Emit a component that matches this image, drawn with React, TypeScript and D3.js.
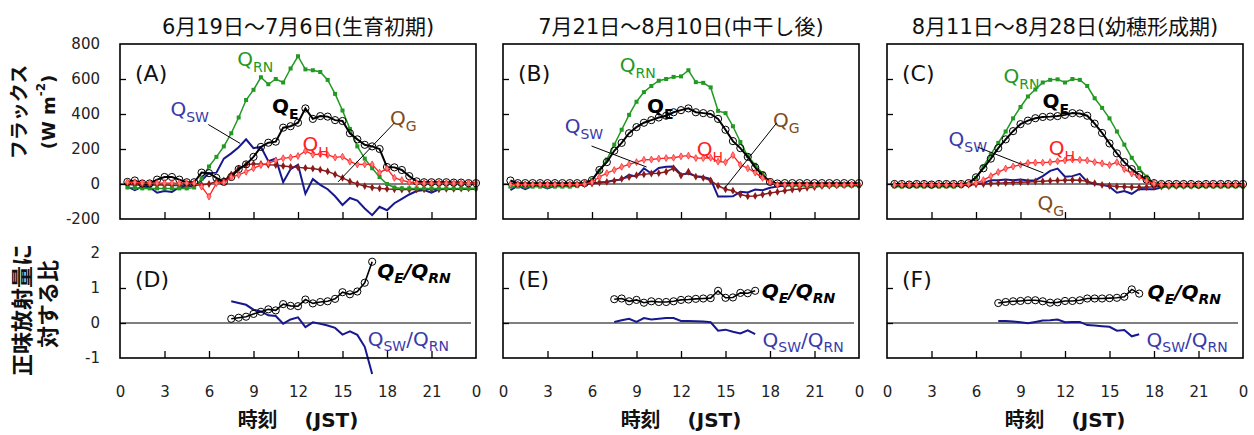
import { useEffect, useRef } from "react";
import * as d3 from "d3";

// sampling times (half-hourly means 0.5 … 24.0 h, ratios 7.5 … 17.0 h)
const HOURS = d3.range(1, 49).map((i) => i / 2);
const RATIO_HOURS = d3.range(15, 35).map((i) => i / 2);

const TITLES = ["6月19日～7月6日(生育初期)", "7月21日～8月10日(中干し後)", "8月11日～8月28日(幼穂形成期)"];
const FLUX_TICKS = [-200, 0, 200, 400, 600, 800];
const RATIO_TICKS = [-1, 0, 1, 2];
const HOUR_TICKS = [0, 3, 6, 9, 12, 15, 18, 21, 24];

// (A) 生育初期
const A_RN = [-20, -22, -25, -25, -25, -25, -25, -25, -25, -20, 30, 100, 155, 215, 290, 380, 480, 538, 610, 570, 600, 580, 660, 730, 655, 650, 640, 595, 515, 420, 315, 215, 145, 90, 40, 0, -20, -25, -25, -25, -25, -25, -25, -25, -25, -25, -25, -25];
const A_E = [12, 20, 3, 3, 25, 40, 40, 25, 10, 10, 65, 62, 35, 12, 40, 85, 112, 155, 212, 236, 242, 322, 330, 350, 432, 372, 388, 385, 365, 360, 290, 255, 224, 215, 200, 97, 95, 80, 45, 15, 10, 10, 10, 10, 8, 8, 5, 5];
const A_H = [10, 10, 5, 5, 5, 5, 5, 5, 5, 5, -15, -72, 5, 10, 40, 52, 70, 90, 108, 118, 135, 147, 152, 160, 189, 168, 171, 166, 152, 156, 128, 112, 112, 112, 65, 88, 35, 22, 10, 5, 5, 5, 5, 5, 5, 5, 5, 5];
const A_G = [-3, -5, -5, -5, -5, -5, -8, -8, -8, -8, -5, 0, 15, 20, 55, 88, 110, 115, 115, 110, 108, 103, 98, 95, 92, 88, 82, 72, 55, 35, 15, 0, -12, -20, -25, -28, -30, -32, -32, -32, -30, -30, -30, -28, -28, -26, -25, -25];
const A_SW = [-15, -35, -15, -18, -50, -40, -45, -18, -15, -12, 20, 62, 65, 145, 175, 210, 255, 205, 212, 130, 145, 10, 85, 110, -55, 28, -5, -30, -70, -120, -80, -95, -140, -178, -130, -150, -110, -85, -60, -40, -35, -50, -30, -28, -28, -28, -28, -28];

// (B) 中干し後
const B_RN = [-15, -15, -15, -15, -15, -15, -15, -15, -15, -12, 0, 22, 75, 140, 225, 310, 395, 470, 525, 560, 590, 600, 612, 615, 650, 582, 578, 552, 418, 405, 330, 240, 160, 110, 60, 12, -5, -10, -12, -12, -12, -12, -12, -12, -12, -12, -12, -12];
const B_E = [20, 5, 5, 5, 5, 5, 5, 5, 5, 5, 5, 22, 80, 125, 190, 235, 290, 325, 350, 365, 380, 390, 410, 422, 432, 410, 405, 400, 372, 310, 245, 205, 155, 95, 50, 12, 3, 5, 5, 5, 5, 5, 5, 5, 5, 5, 5, 5];
const B_H = [-3, -3, -3, -3, -3, -3, -3, -3, -3, -3, 0, 10, 40, 62, 80, 98, 112, 125, 138, 140, 145, 148, 150, 158, 162, 148, 148, 150, 128, 125, 165, 110, 90, 65, 35, 12, -5, -5, -5, -5, -5, -5, -5, -5, -5, -5, -3, -3];
const B_G = [-3, -3, -3, -3, -3, -3, -3, -3, -3, -3, 0, 3, 8, 12, 18, 30, 40, 50, 55, 60, 62, 70, 90, 48, 70, 42, 35, 20, -10, -30, -38, -60, -70, -68, -60, -52, -45, -38, -32, -28, -22, -18, -12, -10, -8, -5, -5, -5];
const B_SW = [-35, -10, -30, -10, -10, -25, -10, -10, -10, -5, 0, 3, 8, 12, 22, 25, 52, 42, 90, 60, 92, 98, 100, 55, 60, 45, 40, 28, -72, -72, -70, -45, -48, -32, -35, -22, -15, -8, -5, -3, -3, -3, -2, -2, -2, -2, -2, -2];

// (C) 幼穂形成期
const C_RN = [-15, -15, -15, -15, -15, -15, -15, -15, -15, -12, 0, 35, 100, 170, 235, 300, 375, 440, 500, 540, 580, 595, 598, 580, 600, 595, 560, 490, 435, 375, 300, 225, 150, 90, 42, 0, -15, -15, -15, -15, -15, -15, -15, -15, -15, -15, -15, -15];
const C_E = [0, 0, -3, 0, 0, -3, 0, 0, 0, 0, 5, 38, 90, 145, 205, 255, 302, 342, 362, 376, 383, 385, 388, 395, 405, 403, 390, 345, 292, 232, 175, 125, 85, 52, 25, 5, 0, 0, 0, 0, 0, -3, 0, 0, 0, 0, 0, 0];
const C_H = [-5, -5, -5, -5, -5, -5, -5, -5, -5, -5, 0, 5, 22, 45, 68, 88, 100, 110, 120, 122, 122, 125, 130, 135, 140, 138, 135, 125, 118, 108, 125, 85, 60, 40, 18, 2, -3, -5, -5, -5, -5, -5, -5, -5, -5, -5, -5, -5];
const C_G = [-5, -5, -5, -5, -5, -5, -5, -5, -5, -5, -5, -2, 0, 3, 5, 7, 8, 10, 12, 14, 16, 18, 20, 22, 23, 22, 15, 5, -5, -10, -14, -16, -18, -19, -18, -16, -15, -13, -12, -10, -10, -9, -8, -8, -7, -6, -6, -5];
const C_SW = [-5, -5, -5, -5, -5, -5, -5, -5, -5, -5, -3, 0, 5, 22, 22, 25, 22, 25, 20, 22, 45, 75, 88, 42, 45, 58, 12, 0, -5, -15, -50, -40, -56, -28, -30, -30, -20, -10, -8, -5, -5, -5, -5, -5, -5, -5, -5, -5];

// (D)(E)(F) 正味放射量に対する比
const D_E = [0.12, 0.15, 0.18, 0.26, 0.32, 0.39, 0.36, 0.54, 0.49, 0.48, 0.67, 0.56, 0.6, 0.62, 0.69, 0.88, 0.82, 0.9, 1.15, 1.75];
const D_SW = [0.62, 0.57, 0.52, 0.38, 0.33, 0.22, 0.2, -0.02, 0.1, 0.16, -0.12, 0.02, -0.02, -0.07, -0.14, -0.33, -0.24, -0.34, -0.68, -1.46];
const E_E = [0.68, 0.7, 0.62, 0.66, 0.58, 0.62, 0.6, 0.6, 0.62, 0.66, 0.67, 0.69, 0.7, 0.71, 0.92, 0.72, 0.73, 0.86, 0.85, 0.92];
const E_SW = [0.03, 0.08, 0.12, 0.03, 0.14, 0.1, 0.12, 0.14, 0.14, 0.06, 0.06, 0.05, 0.04, 0.02, -0.22, -0.19, -0.25, -0.3, -0.21, -0.32];
const F_E = [0.57, 0.6, 0.62, 0.63, 0.65, 0.65, 0.62, 0.58, 0.59, 0.63, 0.63, 0.65, 0.7, 0.7, 0.7, 0.71, 0.72, 0.75, 0.96, 0.84];
const F_SW = [0.06, 0.06, 0.04, 0.02, -0.01, 0.03, 0.07, 0.08, 0.1, 0.02, 0.03, 0.03, -0.06, -0.07, -0.09, -0.11, -0.22, -0.2, -0.38, -0.32];

const FONT = "'DejaVu Sans', 'Noto Sans CJK JP', sans-serif";
const GREEN = "#229922";
const NAVY = "#17178f";
const NAVY_TXT = "#3a3aa8";
const RED = "#ff2020";
const MAROON = "#8b1a1a";
const BROWN = "#7f4c1c";

const PANEL_X = [120, 503, 887];
const PW = 356;
const UP = { top: 44, bottom: 219 };
const LO = { top: 253, bottom: 358 };

// label anchors in data units [hour, value]
const FLUX_PANELS = [
  {
    name: "(A)", rn: A_RN, e: A_E, h: A_H, g: A_G, sw: A_SW,
    lab: { rn: [7.9, 674], e: [10.25, 406], sw: [3.4, 389], h: [12.3, 189], g: [18.2, 337] },
    swLead: [[5.95, 340], [8.1, 232]], gLead: [[18.5, 349], [14.7, 12]],
  },
  {
    name: "(B)", rn: B_RN, e: B_E, h: B_H, g: B_G, sw: B_SW,
    lab: { rn: [7.87, 640], e: [9.7, 406], sw: [4.16, 291], h: [13.06, 158], g: [18.2, 326] },
    swLead: [[5.97, 217], [9.68, 97]], gLead: [[18.45, 349], [14.95, -23]],
  },
  {
    name: "(C)", rn: C_RN, e: C_E, h: C_H, g: C_G, sw: C_SW,
    lab: { rn: [7.86, 577], e: [10.49, 434], sw: [4.15, 217], h: [10.9, 166], g: [10.15, -149] },
    swLead: [[6.1, 211], [10.55, 63]], gLead: null,
  },
];

const RATIO_PANELS = [
  { name: "(D)", e: D_E, sw: D_SW, labE: [17.35, 1.29], labSW: [16.7, -0.66] },
  { name: "(E)", e: E_E, sw: E_SW, labE: [17.45, 0.71], labSW: [17.5, -0.69] },
  { name: "(F)", e: F_E, sw: F_SW, labE: [17.57, 0.69], labSW: [17.5, -0.69] },
];

type Part = { t: string; sub?: boolean };

function richText(g: any, px: number, py: number, parts: Part[], o: { color: string; size: number; sub: number; shift: number; weight?: string; italic?: boolean }) {
  const t = g.append("text").attr("x", px).attr("y", py).attr("fill", o.color)
    .attr("font-size", o.size).attr("font-family", FONT)
    .attr("font-weight", o.weight || "normal").attr("font-style", o.italic ? "italic" : "normal");
  let shifted = false;
  parts.forEach((p) => {
    const s = t.append("tspan").text(p.t);
    if (p.sub) {
      s.attr("font-size", o.sub);
      if (!shifted) s.attr("dy", o.shift);
      shifted = true;
    } else if (shifted) {
      s.attr("dy", -o.shift);
      shifted = false;
    }
  });
}

export default function App() {
  const svgRef = useRef<SVGSVGElement>(null);

  useEffect(() => {
    const svg = d3.select(svgRef.current);
    svg.selectAll("*").remove();

    const tickText = (g: any) => {
      g.select(".domain").remove();
      g.selectAll("line").remove();
      g.selectAll("text").attr("fill", "#222").attr("font-size", 15).attr("font-family", FONT);
    };

    // ---------- upper flux panels ----------
    FLUX_PANELS.forEach((p, i) => {
      const x0 = PANEL_X[i];
      const x = d3.scaleLinear().domain([0, 24]).range([x0, x0 + PW]);
      const y = d3.scaleLinear().domain([-200, 800]).range([UP.bottom, UP.top]);
      const g = svg.append("g");

      g.append("text").attr("x", x0 + PW / 2).attr("y", 34).attr("text-anchor", "middle")
        .attr("font-size", 21).attr("font-family", FONT).attr("fill", "#111").text(TITLES[i]);

      g.append("line").attr("x1", x0).attr("x2", x0 + PW).attr("y1", y(0)).attr("y2", y(0))
        .attr("stroke", "#000").attr("stroke-width", 1);

      const line = d3.line<number>().x((_, k) => x(HOURS[k])).y((d) => y(d));

      // Q_SW
      g.append("path").datum(p.sw).attr("d", line).attr("fill", "none").attr("stroke", NAVY).attr("stroke-width", 2);
      // Q_G
      g.append("path").datum(p.g).attr("d", line).attr("fill", "none").attr("stroke", MAROON).attr("stroke-width", 1.5);
      g.selectAll(null).data(p.g).join("path")
        .attr("transform", (d, k) => `translate(${x(HOURS[k])},${y(d)})`)
        .attr("d", d3.symbol(d3.symbolDiamond, 18)).attr("fill", MAROON);
      // Q_RN
      g.append("path").datum(p.rn).attr("d", line).attr("fill", "none").attr("stroke", GREEN).attr("stroke-width", 1.5);
      g.selectAll(null).data(p.rn).join("rect")
        .attr("x", (_, k) => x(HOURS[k]) - 2).attr("y", (d) => y(d) - 2)
        .attr("width", 4).attr("height", 4).attr("fill", GREEN);
      // Q_E
      g.append("path").datum(p.e).attr("d", line).attr("fill", "none").attr("stroke", "#000").attr("stroke-width", 2);
      g.selectAll(null).data(p.e).join("circle")
        .attr("cx", (_, k) => x(HOURS[k])).attr("cy", (d) => y(d)).attr("r", 3.6)
        .attr("fill", "none").attr("stroke", "#000").attr("stroke-width", 1);
      // Q_H
      g.append("path").datum(p.h).attr("d", line).attr("fill", "none").attr("stroke", RED).attr("stroke-width", 1.3);
      g.selectAll(null).data(p.h).join("path")
        .attr("transform", (d, k) => `translate(${x(HOURS[k])},${y(d)})`)
        .attr("d", d3.symbol(d3.symbolDiamond, 14)).attr("fill", "#ff8080").attr("stroke", RED).attr("stroke-width", 0.7);

      // frame + ticks
      g.append("rect").attr("x", x0).attr("y", UP.top).attr("width", PW).attr("height", UP.bottom - UP.top)
        .attr("fill", "none").attr("stroke", "#000").attr("stroke-width", 1.6);
      g.append("g").attr("transform", `translate(0,${UP.bottom})`)
        .call(d3.axisBottom(x).tickValues(HOUR_TICKS.slice(1, -1)).tickSize(-7).tickFormat(() => ""))
        .call((a: any) => { a.select(".domain").remove(); a.selectAll("line").attr("stroke", "#000").attr("stroke-width", 1.3); });
      g.append("g").attr("transform", `translate(${x0},0)`)
        .call(d3.axisLeft(y).tickValues(FLUX_TICKS.slice(1, -1)).tickSize(-6).tickFormat(() => ""))
        .call((a: any) => { a.select(".domain").remove(); a.selectAll("line").attr("stroke", "#000").attr("stroke-width", 1.3); });
      if (i === 0) {
        g.append("g").attr("transform", `translate(${x0},0)`)
          .call(d3.axisLeft(y).tickValues(FLUX_TICKS).tickSize(0).tickPadding(20).tickFormat((d: any) => String(d)))
          .call(tickText);
      }

      g.append("text").attr("x", x0 + 15).attr("y", UP.top + 37).attr("font-size", 22)
        .attr("font-family", FONT).attr("fill", "#111").text(p.name);

      // series labels
      const L = p.lab;
      const big = { size: 20, sub: 14, shift: 6 };
      richText(g, x(L.rn[0]), y(L.rn[1]), [{ t: "Q" }, { t: "RN", sub: true }], { ...big, color: GREEN });
      richText(g, x(L.sw[0]), y(L.sw[1]), [{ t: "Q" }, { t: "SW", sub: true }], { ...big, color: NAVY_TXT });
      richText(g, x(L.e[0]), y(L.e[1]), [{ t: "Q" }, { t: "E", sub: true }], { ...big, color: "#000", weight: "bold" });
      richText(g, x(L.h[0]), y(L.h[1]), [{ t: "Q" }, { t: "H", sub: true }], { ...big, color: RED });
      richText(g, x(L.g[0]), y(L.g[1]), [{ t: "Q" }, { t: "G", sub: true }], { ...big, color: BROWN });

      const leads = [p.swLead, p.gLead].filter(Boolean) as number[][][];
      leads.forEach((ld) => {
        g.append("line").attr("x1", x(ld[0][0])).attr("y1", y(ld[0][1]))
          .attr("x2", x(ld[1][0])).attr("y2", y(ld[1][1]))
          .attr("stroke", "#000").attr("stroke-width", 1);
      });
    });

    // ---------- lower ratio panels ----------
    RATIO_PANELS.forEach((p, i) => {
      const x0 = PANEL_X[i];
      const x = d3.scaleLinear().domain([0, 24]).range([x0, x0 + PW]);
      const y = d3.scaleLinear().domain([-1, 2]).range([LO.bottom, LO.top]);
      const g = svg.append("g");

      g.append("line").attr("x1", x0).attr("x2", x0 + PW - 5).attr("y1", y(0)).attr("y2", y(0))
        .attr("stroke", "#000").attr("stroke-width", 1);

      const line = d3.line<number>().x((_, k) => x(RATIO_HOURS[k])).y((d) => y(d));
      g.append("path").datum(p.sw).attr("d", line).attr("fill", "none").attr("stroke", NAVY).attr("stroke-width", 2);
      g.append("path").datum(p.e).attr("d", line).attr("fill", "none").attr("stroke", "#000").attr("stroke-width", 1.6);
      g.selectAll(null).data(p.e).join("circle")
        .attr("cx", (_, k) => x(RATIO_HOURS[k])).attr("cy", (d) => y(d)).attr("r", 3.6)
        .attr("fill", "none").attr("stroke", "#000").attr("stroke-width", 1);

      g.append("rect").attr("x", x0).attr("y", LO.top).attr("width", PW).attr("height", LO.bottom - LO.top)
        .attr("fill", "none").attr("stroke", "#000").attr("stroke-width", 1.6);
      g.append("g").attr("transform", `translate(0,${LO.bottom})`)
        .call(d3.axisBottom(x).tickValues(HOUR_TICKS.slice(1, -1)).tickSize(-7).tickFormat(() => ""))
        .call((a: any) => { a.select(".domain").remove(); a.selectAll("line").attr("stroke", "#000").attr("stroke-width", 1.3); });
      g.append("g").attr("transform", `translate(${x0},0)`)
        .call(d3.axisLeft(y).tickValues([0, 1]).tickSize(-6).tickFormat(() => ""))
        .call((a: any) => { a.select(".domain").remove(); a.selectAll("line").attr("stroke", "#000").attr("stroke-width", 1.3); });

      g.append("g").attr("transform", `translate(0,${LO.bottom})`)
        .call(d3.axisBottom(x).tickValues(HOUR_TICKS).tickSize(0).tickPadding(28).tickFormat((d: any) => (d === 24 ? "0" : String(d))))
        .call(tickText);
      if (i === 0) {
        g.append("g").attr("transform", `translate(${x0},0)`)
          .call(d3.axisLeft(y).tickValues(RATIO_TICKS).tickSize(0).tickPadding(20).tickFormat((d: any) => String(d)))
          .call(tickText);
      }

      g.append("text").attr("x", x0 + 15).attr("y", LO.top + 34).attr("font-size", 22)
        .attr("font-family", FONT).attr("fill", "#111").text(p.name);

      richText(g, x(p.labE[0]), y(p.labE[1]), [{ t: "Q" }, { t: "E", sub: true }, { t: "/" }, { t: "Q" }, { t: "RN", sub: true }],
        { size: 20, sub: 14, shift: 5, color: "#000", weight: "bold", italic: true });
      richText(g, x(p.labSW[0]), y(p.labSW[1]), [{ t: "Q" }, { t: "SW", sub: true }, { t: "/" }, { t: "Q" }, { t: "RN", sub: true }],
        { size: 20, sub: 14, shift: 5, color: NAVY_TXT });

      g.append("text").attr("x", x0 + PW / 2).attr("y", 427).attr("text-anchor", "middle")
        .attr("font-size", 20).attr("font-weight", "bold").attr("font-family", FONT).attr("fill", "#111")
        .attr("xml:space", "preserve").text("時刻\u3000 (JST)");
    });

    // ---------- y axis titles ----------
    const rot = (cx: number, cy: number, size: number) =>
      svg.append("text").attr("transform", `translate(${cx},${cy}) rotate(-90)`)
        .attr("text-anchor", "middle").attr("dominant-baseline", "central")
        .attr("font-size", size).attr("font-weight", "bold").attr("font-family", FONT).attr("fill", "#111");
    rot(19, 112, 19).text("フラックス");
    const wm = rot(48, 112, 18);
    wm.append("tspan").text("(W m");
    wm.append("tspan").text("-2").attr("font-size", 12).attr("dy", -7);
    wm.append("tspan").text(")").attr("dy", 7);
    rot(22, 310, 22).text("正味放射量に");
    rot(48, 304, 22).text("対する比");
  }, []);

  return (
    <div style={{ position: "absolute", left: 0, top: 0, background: "#fff" }}>
      <svg ref={svgRef} width={1254} height={435} style={{ display: "block" }} />
    </div>
  );
}
